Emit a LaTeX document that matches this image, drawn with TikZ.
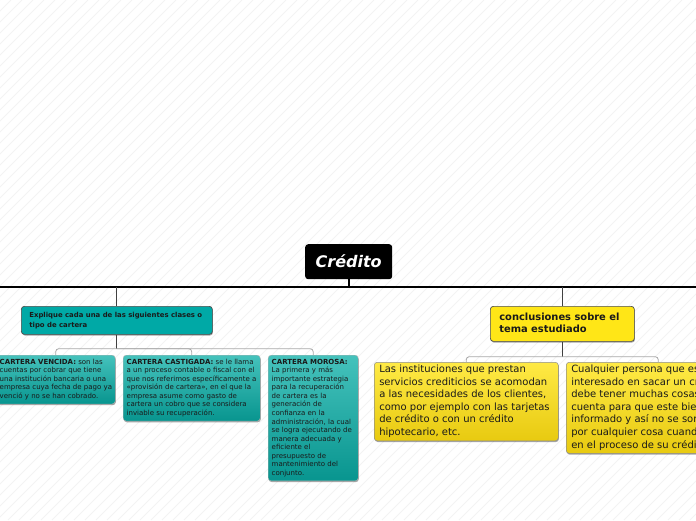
\documentclass[tikz,border=0pt]{standalone}
\usepackage{fontspec}
\setmainfont{DejaVu Sans}
\usetikzlibrary{shadows,calc}
\definecolor{tealflat}{HTML}{00A9A6}
\definecolor{tealtop}{HTML}{45C2BC}
\definecolor{tealbot}{HTML}{08958F}
\definecolor{yelflat}{HTML}{FFE617}
\definecolor{yeltop}{HTML}{FFEA45}
\definecolor{yelbot}{HTML}{E8CA10}
\definecolor{txtdark}{HTML}{1A1A1A}
\definecolor{linegray}{HTML}{A8A8A8}
\definecolor{hatch}{HTML}{F3F3F3}
\newcommand\leftlines[2]{\makebox[#1][l]{\begin{tabular}{@{}l@{}}#2\end{tabular}}}
\begin{document}
\begin{tikzpicture}[x=1pt,y=-1pt,
  every node/.style={inner sep=0pt},
  boxshadow/.style={drop shadow={shadow xshift=0.6pt,shadow yshift=-1.2pt,opacity=0.35,fill=black}},
  rootbox/.style={fill=black, rounded corners=3pt, text=white, anchor=north west,
     minimum width=87pt, minimum height=35pt,
     font=\fontsize{16}{18}\selectfont\bfseries\itshape},
  tealhead/.style={fill=tealflat, draw=black!70, line width=0.7pt, rounded corners=3pt,
     anchor=north west, minimum height=28pt, text=txtdark, inner xsep=8pt,
     font=\fontsize{6.9}{9.5}\selectfont\bfseries, boxshadow},
  tealkid/.style={top color=tealtop, bottom color=tealbot, draw=black!30, line width=0.4pt,
     rounded corners=3pt, anchor=north west, text=txtdark,
     inner xsep=3.5pt, inner ysep=3pt, font=\fontsize{7}{8.55}\selectfont, boxshadow},
  yelhead/.style={fill=yelflat, draw=black!70, line width=0.7pt, rounded corners=3pt,
     anchor=north west, minimum height=35pt, text=txtdark, inner xsep=9pt,
     font=\fontsize{9.9}{12}\selectfont\bfseries, boxshadow},
  yelkid/.style={top color=yeltop, bottom color=yelbot, draw=black!45, line width=0.5pt,
     rounded corners=3pt, anchor=north west, text=txtdark,
     inner xsep=5pt, inner ysep=1.5pt, font=\fontsize{10}{12.6}\selectfont, boxshadow},
  mainline/.style={black, line width=1.6pt},
  stem/.style={black!75, line width=0.8pt},
  branch/.style={linegray, line width=0.8pt, rounded corners=3pt}
]
\useasboundingbox (0,0) rectangle (696,520);
\begin{scope}
\clip (0,0) rectangle (696,520);
\foreach \i in {-520,-509,...,700} \draw[hatch, line width=0.8pt] (\i,520) -- ++(520,-520);

% root
\node[rootbox] (root) at (305,244) {Crédito};

% first level
\node[tealhead] (expl) at (21,306) {\leftlines{175pt}{Explique cada una de las siguientes clases o\\tipo de cartera}};
\node[yelhead] (concl) at (490,306) {\leftlines{126pt}{conclusiones sobre el\\tema estudiado}};

% teal children
\node[tealkid, minimum height=48pt] (c1) at (-4,355)
 {\leftlines{112pt}{\textbf{CARTERA VENCIDA:} son las\\cuentas por cobrar que tiene\\una institución bancaria o una\\empresa cuya fecha de pago ya\\venció y no se han cobrado.}};
\node[tealkid, minimum height=65pt] (c2) at (123,355)
 {\leftlines{130pt}{\textbf{CARTERA CASTIGADA:} se le llama\\a un proceso contable o fiscal con el\\que nos referimos específicamente a\\«provisión de cartera», en el que la\\empresa asume como gasto de\\cartera un cobro que se considera\\inviable su recuperación.}};
\node[tealkid, minimum height=125pt] (c3) at (268,355)
 {\leftlines{83pt}{\textbf{CARTERA MOROSA:}\\La primera y más\\importante estrategia\\para la recuperación\\de cartera es la\\generación de\\confianza en la\\administración, la cual\\se logra ejecutando de\\manera adecuada y\\eficiente el\\presupuesto de\\mantenimiento del\\conjunto.}};

% yellow children
\node[yelkid, minimum height=77pt] (y1) at (374,362)
 {\leftlines{174pt}{Las instituciones que prestan\\servicios crediticios se acomodan\\a las necesidades de los clientes,\\como por ejemplo con las tarjetas\\de crédito o con un crédito\\hipotecario, etc.}};
\node[yelkid, minimum height=89pt] (y2) at (566,362)
 {\leftlines{174pt}{Cualquier persona que esté\\interesado en sacar un crédito\\debe tener muchas cosas en\\cuenta para que este bien\\informado y así no se sorprenda\\por cualquier cosa cuando esté\\en el proceso de su crédito.}};

% connectors
\coordinate (ml) at (0,287);
\coordinate (mr) at (696,287);
\coordinate (jl) at (expl.north |- ml);
\coordinate (jr) at (concl.north |- ml);
\coordinate (jroot) at (root.south |- ml);
\draw[mainline] (ml) -- (mr);
\draw[black, line width=1.6pt] (root.south) -- (jroot);
\draw[stem] (jl) -- (expl.north);
\draw[stem] (jr) -- (concl.north);

\coordinate (tj) at ($(expl.south)+(0,14)$);
\draw[stem] (expl.south) -- (tj);
\draw[branch] (c1.north) |- (tj) -| (c3.north);
\draw[branch] (tj) -| (c2.north);

\coordinate (yj) at ($(concl.south)+(0,15)$);
\draw[stem] (concl.south) -- (yj);
\draw[branch] (y1.north) |- (yj) -| (y2.north);
\end{scope}
\end{tikzpicture}
\end{document}
